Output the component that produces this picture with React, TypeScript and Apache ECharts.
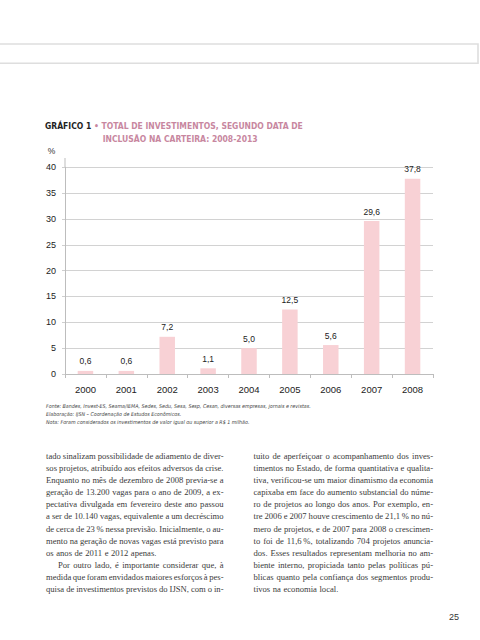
import React, { useEffect, useRef } from "react";
import * as echarts from "echarts";

const categories = ["2000", "2001", "2002", "2003", "2004", "2005", "2006", "2007", "2008"];
const values = [0.6, 0.6, 7.2, 1.1, 5.0, 12.5, 5.6, 29.6, 37.8];
const yUnit = "%";

const titleLead = "GRÁFICO 1";
const titleLine1 = " • TOTAL DE INVESTIMENTOS, SEGUNDO DATA DE";
const titleLine2 = "INCLUSÃO NA CARTEIRA: 2008-2013";

const notes = [
  "Fonte: Bandes, Invest-ES, Seama/IEMA, Sedes, Sedu, Sesa, Sesp, Cesan, diversas empresas, jornais e revistas.",
  "Elaboração: IJSN – Coordenação de Estudos Econômicos.",
  "Nota: Foram considerados os investimentos de valor igual ou superior a R$ 1 milhão.",
];

// [text, paragraphEnd, indent]
const leftLines: [string, boolean, boolean][] = [
  ["tado sinalizam possibilidade de adiamento de diver-", false, false],
  ["sos projetos, atribuído aos efeitos adversos da crise.", false, false],
  ["Enquanto no mês de dezembro de 2008 previa-se a", false, false],
  ["geração de 13.200 vagas para o ano de 2009, a ex-", false, false],
  ["pectativa divulgada em fevereiro deste ano passou", false, false],
  ["a ser de 10.140 vagas, equivalente a um decréscimo", false, false],
  ["de cerca de 23\u2009% nessa previsão. Inicialmente, o au-", false, false],
  ["mento na geração de novas vagas está previsto para", false, false],
  ["os anos de 2011 e 2012 apenas.", true, false],
  ["Por outro lado, é importante considerar que, à", false, true],
  ["medida que foram envidados maiores esforços à pes-", false, false],
  ["quisa de investimentos previstos do IJSN, com o in-", false, false],
];

const rightLines: [string, boolean, boolean][] = [
  ["tuito de aperfeiçoar o acompanhamento dos inves-", false, false],
  ["timentos no Estado, de forma quantitativa e qualita-", false, false],
  ["tiva, verificou-se um maior dinamismo da economia", false, false],
  ["capixaba em face do aumento substancial do núme-", false, false],
  ["ro de projetos ao longo dos anos. Por exemplo, en-", false, false],
  ["tre 2006 e 2007 houve crescimento de 21,1\u2009% no nú-", false, false],
  ["mero de projetos, e de 2007 para 2008 o crescimen-", false, false],
  ["to foi de 11,6\u2009%, totalizando 704 projetos anuncia-", false, false],
  ["dos. Esses resultados representam melhoria no am-", false, false],
  ["biente interno, propiciada tanto pelas políticas pú-", false, false],
  ["blicas quanto pela confiança dos segmentos produ-", false, false],
  ["tivos na economia local.", true, false],
];

const pageNumber = "25";

const SANS = "'Liberation Sans', Arial, sans-serif";
const NARROW = "'DejaVu Sans Condensed', sans-serif";
const SERIF = "'Liberation Serif', serif";
const BODY_SIZE = 8.6;

function buildColumn(
  lines: [string, boolean, boolean][],
  x0: number,
  y0: number,
  width: number,
  lineH: number
): any[] {
  const ctx = document.createElement("canvas").getContext("2d")!;
  ctx.font = `${BODY_SIZE}px "Liberation Serif"`;
  const spaceW = ctx.measureText(" ").width;
  const out: any[] = [];
  lines.forEach(([text, end, indent], i) => {
    const y = y0 + i * lineH;
    const start = x0 + (indent ? 12 : 0);
    const avail = width - (indent ? 12 : 0);
    const words = text.split(" ");
    const widths = words.map((w) => ctx.measureText(w).width);
    const sum = widths.reduce((a, b) => a + b, 0);
    const gap = end || words.length < 2 ? spaceW * 1.2 : (avail - sum) / (words.length - 1);
    let x = start;
    words.forEach((w, k) => {
      out.push({
        type: "text",
        x,
        y,
        silent: true,
        style: {
          text: w,
          fontSize: BODY_SIZE,
          fontFamily: SERIF,
          fill: "#3a3a3a",
          verticalAlign: "middle",
          align: "left",
        },
      });
      x += widths[k] + gap;
    });
  });
  return out;
}

export default function App() {
  const ref = useRef<HTMLDivElement>(null);
  useEffect(() => {
    document.body.style.margin = "0";
    const chart = echarts.init(ref.current!, undefined, { renderer: "svg" });
    const graphics: any[] = [
      {
        type: "rect",
        shape: { x: -4, y: 44, width: 482, height: 19.3 },
        style: { fill: "#fff", stroke: "#dedede", lineWidth: 1.6 },
        silent: true,
      },
      {
        type: "text",
        x: 45,
        y: 126,
        style: {
          text: `{a|${titleLead}}{b|${titleLine1}}`,
          verticalAlign: "middle",
          rich: {
            a: { fontSize: 8.5, fontWeight: "bold", fontFamily: NARROW, fill: "#1e1e1e" },
            b: { fontSize: 8.5, fontWeight: "bold", fontFamily: NARROW, fill: "#c8879f" },
          },
        },
      },
      {
        type: "text",
        x: 102.7,
        y: 138.5,
        style: {
          text: titleLine2,
          fontSize: 8.5,
          fontWeight: "bold",
          fontFamily: NARROW,
          fill: "#c8879f",
          verticalAlign: "middle",
        },
      },
      {
        type: "text",
        x: 51.5,
        y: 150.5,
        style: { text: yUnit, fontSize: 8.5, fontFamily: SANS, fill: "#333", align: "center", verticalAlign: "middle" },
      },
      {
        type: "line",
        shape: { x1: 65, y1: 158, x2: 65, y2: 167.3 },
        style: { stroke: "#bdbdbd", lineWidth: 1 },
        silent: true,
      },
      ...notes.map((t, i) => ({
        type: "text",
        x: 46,
        y: 406 + i * 8.2,
        style: {
          text: t,
          fontSize: 5.3,
          fontStyle: "italic",
          fontFamily: NARROW,
          fill: "#444",
          verticalAlign: "middle",
        },
      })),
      ...buildColumn(leftLines, 46, 455.7, 177.5, 12.15),
      ...buildColumn(rightLines, 253.5, 455.7, 179.5, 12.15),
      {
        type: "text",
        x: 454,
        y: 617,
        style: { text: pageNumber, fontSize: 9, fontFamily: SANS, fill: "#333", align: "center", verticalAlign: "middle" },
      },
    ];

    chart.setOption({
      animation: false,
      backgroundColor: "#ffffff",
      grid: { left: 65, right: 47, top: 167.3, bottom: 266, containLabel: false },
      xAxis: {
        type: "category",
        data: categories,
        boundaryGap: true,
        axisLine: { show: true, lineStyle: { color: "#bdbdbd", width: 1 } },
        axisTick: { show: true, length: 4, interval: 0, alignWithLabel: false, lineStyle: { color: "#bdbdbd" } },
        axisLabel: { color: "#222", fontSize: 9.5, fontFamily: SANS, margin: 10, interval: 0 },
        splitLine: { show: false },
      },
      yAxis: {
        type: "value",
        min: 0,
        max: 40,
        interval: 5,
        axisLine: { show: true, lineStyle: { color: "#bdbdbd", width: 1 } },
        axisTick: { show: true, length: 3, lineStyle: { color: "#cfcfcf" } },
        axisLabel: { color: "#222", fontSize: 9, fontFamily: SANS, margin: 9 },
        splitLine: { show: true, lineStyle: { color: "#d2d2d2", width: 1 } },
      },
      series: [
        {
          type: "bar",
          data: values,
          barWidth: 15.5,
          itemStyle: { color: "#f8d1d5" },
          label: {
            show: true,
            position: "top",
            distance: 5,
            color: "#222",
            fontSize: 8.5,
            fontFamily: SANS,
            formatter: (p: any) => Number(p.value).toFixed(1).replace(".", ","),
          },
        },
      ],
      graphic: graphics,
    });
    return () => chart.dispose();
  }, []);
  return (
    <div
      ref={ref}
      style={{ position: "absolute", left: 0, top: 0, width: 480, height: 640, background: "#fff" }}
    />
  );
}
